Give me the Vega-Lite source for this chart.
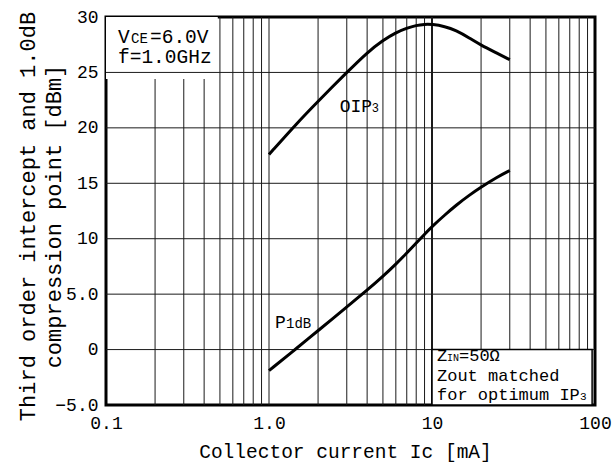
{
  "$schema": "https://vega.github.io/schema/vega-lite/v6.json",
  "width": 489,
  "height": 388,
  "autosize": {"type": "none"},
  "padding": {"left": 106, "top": 17, "right": 20, "bottom": 62},
  "background": "white",
  "config": {
    "view": {"stroke": "black", "strokeWidth": 3},
    "font": "Liberation Mono",
    "text": {"font": "Liberation Mono", "color": "black"}
  },
  "datasets": {
    "curves": [
      {"series": "OIP3", "mA": 1.0, "dBm": 17.6},
      {"series": "OIP3", "mA": 1.5, "dBm": 20.5},
      {"series": "OIP3", "mA": 2.0, "dBm": 22.4},
      {"series": "OIP3", "mA": 3.0, "dBm": 25.0},
      {"series": "OIP3", "mA": 4.0, "dBm": 26.8},
      {"series": "OIP3", "mA": 5.0, "dBm": 27.9},
      {"series": "OIP3", "mA": 6.0, "dBm": 28.6},
      {"series": "OIP3", "mA": 7.0, "dBm": 29.0},
      {"series": "OIP3", "mA": 8.0, "dBm": 29.25},
      {"series": "OIP3", "mA": 9.0, "dBm": 29.35},
      {"series": "OIP3", "mA": 10.0, "dBm": 29.35},
      {"series": "OIP3", "mA": 12.0, "dBm": 29.15},
      {"series": "OIP3", "mA": 14.0, "dBm": 28.8},
      {"series": "OIP3", "mA": 17.0, "dBm": 28.1},
      {"series": "OIP3", "mA": 20.0, "dBm": 27.45},
      {"series": "OIP3", "mA": 25.0, "dBm": 26.75},
      {"series": "OIP3", "mA": 30.0, "dBm": 26.15},
      {"series": "P1dB", "mA": 1.0, "dBm": -1.9},
      {"series": "P1dB", "mA": 1.5, "dBm": 0.2},
      {"series": "P1dB", "mA": 2.0, "dBm": 1.7},
      {"series": "P1dB", "mA": 3.0, "dBm": 3.85},
      {"series": "P1dB", "mA": 4.0, "dBm": 5.35},
      {"series": "P1dB", "mA": 5.0, "dBm": 6.6},
      {"series": "P1dB", "mA": 6.0, "dBm": 7.7},
      {"series": "P1dB", "mA": 7.0, "dBm": 8.7},
      {"series": "P1dB", "mA": 8.0, "dBm": 9.6},
      {"series": "P1dB", "mA": 9.0, "dBm": 10.4},
      {"series": "P1dB", "mA": 10.0, "dBm": 11.1},
      {"series": "P1dB", "mA": 12.0, "dBm": 12.15},
      {"series": "P1dB", "mA": 14.0, "dBm": 13.0},
      {"series": "P1dB", "mA": 17.0, "dBm": 13.95},
      {"series": "P1dB", "mA": 20.0, "dBm": 14.65},
      {"series": "P1dB", "mA": 25.0, "dBm": 15.55},
      {"series": "P1dB", "mA": 30.0, "dBm": 16.15}
    ],
    "vgrid": [
      {"mA": 0.2}, {"mA": 0.3}, {"mA": 0.4}, {"mA": 0.5}, {"mA": 0.6}, {"mA": 0.7}, {"mA": 0.8}, {"mA": 0.9},
      {"mA": 1}, {"mA": 2}, {"mA": 3}, {"mA": 4}, {"mA": 5}, {"mA": 6}, {"mA": 7}, {"mA": 8}, {"mA": 9},
      {"mA": 20}, {"mA": 30}, {"mA": 40}, {"mA": 50}, {"mA": 60}, {"mA": 70}, {"mA": 80}, {"mA": 90}
    ],
    "hgrid": [{"dBm": 0}, {"dBm": 5}, {"dBm": 10}, {"dBm": 15}, {"dBm": 20}, {"dBm": 25}],
    "one": [{}]
  },
  "layer": [
    {
      "data": {"name": "vgrid"},
      "mark": {"type": "rule", "color": "#1a1a1a", "strokeWidth": 1},
      "encoding": {
        "x": {
          "field": "mA", "type": "quantitative",
          "scale": {"type": "log", "domain": [0.1, 100], "nice": false},
          "axis": {
            "values": [0.1, 1, 10, 100],
            "labelExpr": "datum.value < 0.5 ? '0.1' : datum.value < 5 ? '1.0' : datum.value < 50 ? '10' : '100'",
            "labelFlush": false, "labelOverlap": false,
            "grid": false, "ticks": false, "tickSize": 0, "domain": false,
            "labelFont": "Liberation Mono", "labelFontSize": 18, "labelColor": "black", "labelPadding": 9,
            "title": "Collector current Ic [mA]",
            "titleFont": "Liberation Mono", "titleFontSize": 19.5, "titleFontWeight": "normal", "titleColor": "black",
            "titleX": 239, "titleY": 52, "titleAlign": "center", "titleBaseline": "alphabetic"
          }
        },
        "y": {
          "datum": -5, "type": "quantitative",
          "scale": {"domain": [-5, 30], "nice": false, "zero": false},
          "axis": {
            "values": [-5, 0, 5, 10, 15, 20, 25, 30],
            "labelExpr": "datum.value == 5 ? '5.0' : datum.value == -5 ? '\u22125.0' : datum.label",
            "grid": false, "ticks": false, "tickSize": 0, "domain": false,
            "labelFont": "Liberation Mono", "labelFontSize": 18, "labelColor": "black", "labelPadding": 8,
            "title": ["Third order intercept and 1.0dB", "compression point [dBm]"],
            "titleFont": "Liberation Mono", "titleFontSize": 22, "titleFontWeight": "normal", "titleColor": "black",
            "titleLineHeight": 26, "titleAngle": -90,
            "titleX": -89, "titleY": 199, "titleAlign": "center", "titleBaseline": "top"
          }
        },
        "y2": {"datum": 30}
      }
    },
    {
      "data": {"values": [{"mA": 10}]},
      "mark": {"type": "rule", "color": "#1a1a1a", "strokeWidth": 2},
      "encoding": {
        "x": {"field": "mA", "type": "quantitative"},
        "y": {"datum": -5, "type": "quantitative"},
        "y2": {"datum": 30}
      }
    },
    {
      "data": {"name": "one"},
      "mark": {"type": "rect", "fill": "white", "stroke": null},
      "encoding": {
        "x": {"datum": 0.1, "type": "quantitative"},
        "x2": {"datum": 0.485},
        "y": {"datum": 24.4, "type": "quantitative"},
        "y2": {"datum": 30}
      }
    },
    {
      "data": {"name": "hgrid"},
      "mark": {"type": "rule", "color": "#1a1a1a", "strokeWidth": 1},
      "encoding": {
        "x": {"datum": 0.1, "type": "quantitative"},
        "x2": {"datum": 100},
        "y": {"field": "dBm", "type": "quantitative"}
      }
    },
    {
      "data": {"name": "one"},
      "mark": {"type": "rect", "fill": "white", "stroke": "black", "strokeWidth": 1.5},
      "encoding": {
        "x": {"datum": 10, "type": "quantitative"},
        "x2": {"datum": 96},
        "y": {"datum": -5, "type": "quantitative"},
        "y2": {"datum": 0}
      }
    },
    {
      "data": {"name": "curves"},
      "mark": {"type": "line", "color": "black", "strokeWidth": 3, "interpolate": "basis"},
      "encoding": {
        "x": {"field": "mA", "type": "quantitative"},
        "y": {"field": "dBm", "type": "quantitative"},
        "detail": {"field": "series"}
      }
    },
    {
      "data": {"name": "one"},
      "mark": {"type": "text", "align": "left", "baseline": "alphabetic", "fontSize": 19.5, "dx": 12},
      "encoding": {"x": {"datum": 0.1, "type": "quantitative"}, "y": {"datum": 27.66, "type": "quantitative"}, "text": {"value": "V"}}
    },
    {
      "data": {"name": "one"},
      "mark": {"type": "text", "align": "left", "baseline": "alphabetic", "fontSize": 14, "dx": 25},
      "encoding": {"x": {"datum": 0.1, "type": "quantitative"}, "y": {"datum": 27.66, "type": "quantitative"}, "text": {"value": "CE"}}
    },
    {
      "data": {"name": "one"},
      "mark": {"type": "text", "align": "left", "baseline": "alphabetic", "fontSize": 19.5, "dx": 44},
      "encoding": {"x": {"datum": 0.1, "type": "quantitative"}, "y": {"datum": 27.66, "type": "quantitative"}, "text": {"value": "=6.0V"}}
    },
    {
      "data": {"name": "one"},
      "mark": {"type": "text", "align": "left", "baseline": "alphabetic", "fontSize": 19.5, "dx": 12},
      "encoding": {"x": {"datum": 0.1, "type": "quantitative"}, "y": {"datum": 25.85, "type": "quantitative"}, "text": {"value": "f=1.0GHz"}}
    },
    {
      "data": {"name": "one"},
      "mark": {"type": "text", "align": "left", "baseline": "alphabetic", "fontSize": 18, "dx": -7},
      "encoding": {"x": {"datum": 3, "type": "quantitative"}, "y": {"datum": 21.43, "type": "quantitative"}, "text": {"value": "OIP"}}
    },
    {
      "data": {"name": "one"},
      "mark": {"type": "text", "align": "left", "baseline": "alphabetic", "fontSize": 12, "dx": 25},
      "encoding": {"x": {"datum": 3, "type": "quantitative"}, "y": {"datum": 21.43, "type": "quantitative"}, "text": {"value": "3"}}
    },
    {
      "data": {"name": "one"},
      "mark": {"type": "text", "align": "left", "baseline": "alphabetic", "fontSize": 18, "dx": 6},
      "encoding": {"x": {"datum": 1, "type": "quantitative"}, "y": {"datum": 1.95, "type": "quantitative"}, "text": {"value": "P"}}
    },
    {
      "data": {"name": "one"},
      "mark": {"type": "text", "align": "left", "baseline": "alphabetic", "fontSize": 14, "dx": 17},
      "encoding": {"x": {"datum": 1, "type": "quantitative"}, "y": {"datum": 1.95, "type": "quantitative"}, "text": {"value": "1dB"}}
    },
    {
      "data": {"name": "one"},
      "mark": {"type": "text", "align": "left", "baseline": "alphabetic", "fontSize": 17, "dx": 5},
      "encoding": {"x": {"datum": 10, "type": "quantitative"}, "y": {"datum": -1.03, "type": "quantitative"}, "text": {"value": "Z"}}
    },
    {
      "data": {"name": "one"},
      "mark": {"type": "text", "align": "left", "baseline": "alphabetic", "fontSize": 10, "dx": 15},
      "encoding": {"x": {"datum": 10, "type": "quantitative"}, "y": {"datum": -1.03, "type": "quantitative"}, "text": {"value": "IN"}}
    },
    {
      "data": {"name": "one"},
      "mark": {"type": "text", "align": "left", "baseline": "alphabetic", "fontSize": 17, "dx": 27},
      "encoding": {"x": {"datum": 10, "type": "quantitative"}, "y": {"datum": -1.03, "type": "quantitative"}, "text": {"value": "=50Ω"}}
    },
    {
      "data": {"name": "one"},
      "mark": {"type": "text", "align": "left", "baseline": "alphabetic", "fontSize": 17, "dx": 5},
      "encoding": {"x": {"datum": 10, "type": "quantitative"}, "y": {"datum": -2.83, "type": "quantitative"}, "text": {"value": "Zout matched"}}
    },
    {
      "data": {"name": "one"},
      "mark": {"type": "text", "align": "left", "baseline": "alphabetic", "fontSize": 17, "dx": 5},
      "encoding": {"x": {"datum": 10, "type": "quantitative"}, "y": {"datum": -4.55, "type": "quantitative"}, "text": {"value": "for optimum IP"}}
    },
    {
      "data": {"name": "one"},
      "mark": {"type": "text", "align": "left", "baseline": "alphabetic", "fontSize": 11, "dx": 148},
      "encoding": {"x": {"datum": 10, "type": "quantitative"}, "y": {"datum": -4.55, "type": "quantitative"}, "text": {"value": "3"}}
    }
  ]
}
